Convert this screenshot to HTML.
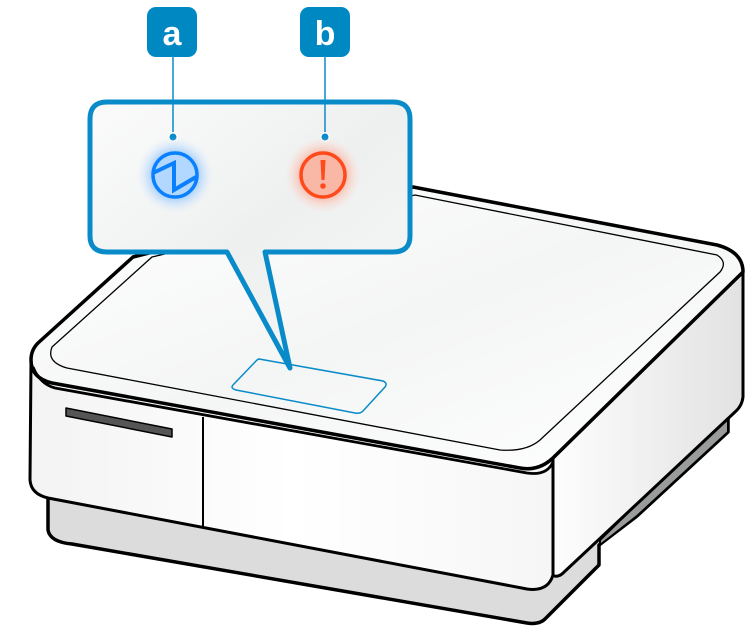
<!DOCTYPE html>
<html><head><meta charset="utf-8"><style>html,body{margin:0;padding:0;background:#fff;width:748px;height:626px;overflow:hidden}</style></head>
<body>
<svg width="748" height="626" viewBox="0 0 748 626" xmlns="http://www.w3.org/2000/svg">
<defs>
<linearGradient id="top" x1="0" y1="0" x2="1" y2="1">
<stop offset="0" stop-color="#fff"/><stop offset="0.5" stop-color="#f4f5f5"/><stop offset="1" stop-color="#fff"/></linearGradient>
<linearGradient id="side" x1="0" y1="0" x2="1" y2="0">
<stop offset="0" stop-color="#fdfdfd"/><stop offset="1" stop-color="#e2e2e2"/></linearGradient>
<linearGradient id="front" x1="0" y1="0" x2="1" y2="0">
<stop offset="0" stop-color="#f3f3f3"/><stop offset="0.5" stop-color="#fff"/><stop offset="1" stop-color="#f6f6f6"/></linearGradient>
<linearGradient id="callbg" x1="0" y1="0" x2="1" y2="1">
<stop offset="0" stop-color="#fbfbfb"/><stop offset="0.5" stop-color="#eef0f0"/><stop offset="1" stop-color="#f7f7f7"/></linearGradient>
<radialGradient id="gb"><stop offset="0.5" stop-color="#6fb4ff" stop-opacity="0.8"/><stop offset="1" stop-color="#cfe6ff" stop-opacity="0"/></radialGradient>
<radialGradient id="gr"><stop offset="0.5" stop-color="#ff9a80" stop-opacity="0.8"/><stop offset="1" stop-color="#ffd8cc" stop-opacity="0"/></radialGradient>
</defs>

<path d="M48,495 L48,530 Q50,542 72,544 L527,623 Q540,625 546,618 L599,565 L599,545 L637,516 L728,432 L728,410 L560,575 Z" fill="#dcdcdc" stroke="#000" stroke-width="3.5" stroke-linejoin="round"/>
<path d="M600,545 L637,516 L728,432 L728,415 L600,540 Z" fill="#9a9c9c" stroke="#000" stroke-width="2"/>
<path d="M743,272 L743,397 Q742,406 735,412 L562,574 Q556,578 553,575 L553,458 L740,275 Z" fill="url(#side)" stroke="#000" stroke-width="3" stroke-linejoin="round"/>
<path d="M31,362 L30,480 Q31,494 48,498 L527,589 Q548,592 553,575 L553,458 Z" fill="url(#front)" stroke="#000" stroke-width="3" stroke-linejoin="round"/>
<path d="M133,257 L413,187 L717,245 Q743,252 743,272 L556,455 Q540,472 520,468 L52,383 Q31,378 31,360 Q31,350 38,343 Z" fill="url(#top)" stroke="#000" stroke-width="3.5" stroke-linejoin="round"/>
<path d="M152,257 L415,195 L717,255 Q728,262 720,272 L540,440 Q526,452 500,450 L67,368 Q46,362 52,347 Z" fill="none" stroke="#000" stroke-width="1.3"/>
<path d="M33,367 Q40,384 55,388 L527,473 Q547,476 553,462" fill="none" stroke="#000" stroke-width="2.8"/>
<path d="M66,408 L172,429 L172,437 L66,416 Z" fill="#555" stroke="#000" stroke-width="1.5" stroke-linejoin="round"/>
<line x1="203" y1="417" x2="203" y2="528" stroke="#000" stroke-width="2"/>
<path d="M259,359 L383,381 Q388,383 385,387 L363,411 Q360,414 355,413 L236,390 Q230,388 233,385 L256,361 Q258,359 259,359 Z" fill="none" stroke="#0a8bc9" stroke-width="1.5"/>

<path d="M107,102 L393,102 Q410,102 410,119 L410,236 Q410,252 393,252 L265,252 L290,368 L227,252 L107,252 Q90,252 90,236 L90,119 Q90,102 107,102 Z" fill="url(#callbg)" stroke="#0a8bc9" stroke-width="5" stroke-linejoin="round"/>

<rect x="147" y="7" width="50" height="50" rx="9" fill="#0088c2"/>
<rect x="300" y="7" width="50" height="50" rx="9" fill="#0088c2"/>
<text x="172" y="45" text-anchor="middle" font-family="Liberation Sans, sans-serif" font-weight="bold" font-size="34" fill="#fff">a</text>
<text x="325" y="45" text-anchor="middle" font-family="Liberation Sans, sans-serif" font-weight="bold" font-size="34" fill="#fff">b</text>
<line x1="173" y1="57" x2="173" y2="137" stroke="#0a8bc9" stroke-width="1.5"/>
<line x1="325" y1="57" x2="325" y2="137" stroke="#0a8bc9" stroke-width="1.5"/>
<circle cx="173" cy="137" r="5" fill="#fff"/><circle cx="173" cy="137" r="3.5" fill="#0a8bc9"/>
<circle cx="325" cy="137" r="5" fill="#fff"/><circle cx="325" cy="137" r="3.5" fill="#0a8bc9"/>

<circle cx="175" cy="175" r="38" fill="url(#gb)"/>
<circle cx="175" cy="175" r="22" fill="#b3d8ff" stroke="#0a80ff" stroke-width="3.5"/>
<path d="M153,173 L174,163 L174,190 L196,177" fill="none" stroke="#0a80ff" stroke-width="4" stroke-linejoin="miter"/>
<circle cx="323" cy="175" r="38" fill="url(#gr)"/>
<circle cx="323" cy="175" r="22" fill="#f9b7a6" stroke="#ff4a1c" stroke-width="3.5"/>
<path d="M320.5,160 L325.5,160 L324.5,180 L321.5,180 Z" fill="#ff4a1c"/>
<circle cx="323" cy="186" r="2.8" fill="#ff4a1c"/>
</svg>
</body></html>
